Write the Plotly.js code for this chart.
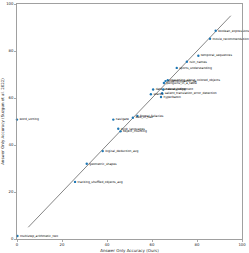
<!DOCTYPE html>
<html><head><meta charset="utf-8">
<script src="https://cdn.plot.ly/plotly-3.0.1.min.js"></script>
<style>html,body{margin:0;padding:0;background:#fff}#c{width:249px;height:253px}</style>
</head><body><div id="c"></div>
<script>
const tasks = ["boolean_expressions","movie_recommendation","temporal_sequences","ruin_names","sports_understanding",
"disambiguation_qa","reasoning_about_colored_objects","penguins_in_a_table","date_understanding","causal_judgement",
"snarks","salient_translation_error_detection","hyperbaton","web_of_lies","formal_fallacies","navigate",
"dyck_languages","object_counting","logical_deduction_avg","geometric_shapes","tracking_shuffled_objects_avg",
"multistep_arithmetic_two","word_sorting"];
const ours = [88.3,85.8,80.6,75.5,71.0,66.0,67.0,65.3,60.5,65.0,59.5,64.5,64.0,51.5,53.5,42.8,45.0,46.0,38.1,31.0,25.8,0.2,0.0];
const suzgun = [88.6,85.2,78.0,75.4,72.8,67.2,67.6,66.4,63.6,63.6,61.6,62.0,60.4,51.6,52.4,50.8,46.9,45.8,37.4,32.0,24.3,1.3,50.8];
const refLine = [5,95];
const ticks = [0,20,40,60,80,100];

const traces = [
  {x: refLine, y: refLine, mode:'lines', line:{color:'#333', width:0.6}, hoverinfo:'skip', showlegend:false},
  {x: ours, y: suzgun, mode:'markers+text', text: tasks, textposition:'middle right',
   textfont:{family:'DejaVu Sans', size:3.0, color:'#000'},
   marker:{color:'#1f77b4', size:2.4, symbol:'circle'}, showlegend:false, cliponaxis:false}
];
const axisCommon = {range:[0,100], tickvals:ticks, ticktext:ticks.map(String), ticks:'outside', ticklen:2, tickwidth:0.5,
  tickcolor:'#555', showgrid:false, zeroline:false, showline:true, mirror:true, linecolor:'#888', linewidth:0.8,
  tickfont:{family:'DejaVu Sans', size:3.8, color:'#222'}};
const layout = {
  width:249, height:253, margin:{l:17, r:7, t:4, b:14}, paper_bgcolor:'#fff', plot_bgcolor:'#fff', showlegend:false,
  xaxis: Object.assign({}, axisCommon, {title:{text:'Answer Only Accuracy (Ours)', font:{family:'DejaVu Sans', size:4, color:'#222'}, standoff:2}}),
  yaxis: Object.assign({}, axisCommon, {title:{text:'Answer Only Accuracy (Suzgun et al. 2022)', font:{family:'DejaVu Sans', size:4, color:'#222'}, standoff:2}})
};
Plotly.newPlot('c', traces, layout, {staticPlot:true, displayModeBar:false});
</script></body></html>
